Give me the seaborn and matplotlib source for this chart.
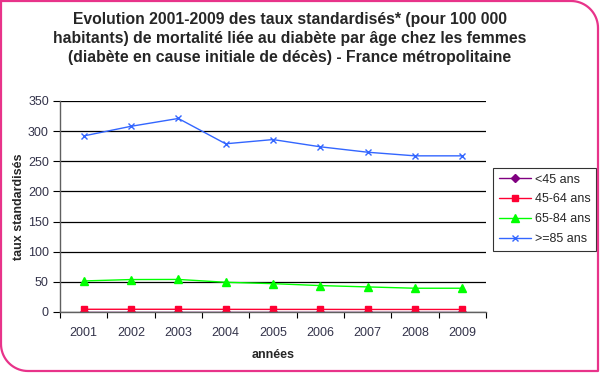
import matplotlib
matplotlib.use("Agg")
import matplotlib.pyplot as plt
import seaborn as sns
import pandas as pd
import numpy as np
from matplotlib.lines import Line2D

years = ["2001", "2002", "2003", "2004", "2005", "2006", "2007", "2008", "2009"]
lt45 = [0.4, 0.4, 0.4, 0.4, 0.4, 0.4, 0.4, 0.4, 0.4]
a45_64 = [4.5, 4.5, 4.5, 4.4, 4.3, 4.3, 4.2, 4.2, 4.2]
a65_84 = [51.5, 53.8, 54.0, 49.3, 47.0, 43.8, 41.6, 39.4, 39.4]
ge85 = [292, 308, 321, 279, 286, 274, 265, 259, 259]
series = ["<45 ans", "45-64 ans", "65-84 ans", ">=85 ans"]

sns.set_theme(style="white")
plt.rcParams['font.family'] = ['Liberation Sans', 'DejaVu Sans']

rows = []
for name, vals in zip(series, [lt45, a45_64, a65_84, ge85]):
    for i, (y, v) in enumerate(zip(years, vals)):
        rows.append({"idx": i, "year": y, "val": v, "serie": name})
df = pd.DataFrame(rows)

fig = plt.figure(figsize=(6, 3.74), dpi=100)
ax = fig.add_axes([0.1, 0.1658, 0.71, 0.5642])

palette = {"<45 ans": "#800080", "45-64 ans": "#FF0033", "65-84 ans": "#00FF00", ">=85 ans": "#3366FF"}
markers = {"<45 ans": "D", "45-64 ans": "s", "65-84 ans": "^", ">=85 ans": "x"}
msizes = {"<45 ans": 4, "45-64 ans": 5, "65-84 ans": 6, ">=85 ans": 5}
for name in series:
    sub = df[df["serie"] == name]
    sns.lineplot(data=sub, x="idx", y="val", color=palette[name], marker=markers[name],
                 markersize=msizes[name], markeredgewidth=1,
                 markeredgecolor=palette[name], linewidth=1, ax=ax, label=name)

tickcol = '#33334a'
ax.set_xlim(-0.5, 8.5)
ax.set_ylim(0, 350)
ax.set_yticks(np.arange(0, 351, 50))
ax.set_xticks(range(len(years)))
ax.set_xticklabels(years)
ax.set_xticks(np.arange(-0.5, 9, 1), minor=True)
ax.tick_params(axis='x', which='major', length=0, labelsize=9, pad=11, labelcolor=tickcol)
ax.tick_params(axis='x', which='minor', length=4, width=0.8, color='black', direction='out', bottom=True)
ax.tick_params(axis='y', which='major', length=5, width=0.8, color='black', labelsize=9,
               direction='out', left=True, pad=3, labelcolor=tickcol)
ax.yaxis.grid(True, color='black', linewidth=0.9)
ax.xaxis.grid(False)
ax.set_axisbelow(True)
for s in ['top', 'right']:
    ax.spines[s].set_visible(False)
for s in ['left', 'bottom']:
    ax.spines[s].set_color('#606060')
    ax.spines[s].set_linewidth(1)
ax.set_xlabel("années", fontsize=9, fontweight='bold', labelpad=7)
ax.set_ylabel("taux standardisés", fontsize=9, fontweight='bold', labelpad=2)

handles, labels = ax.get_legend_handles_labels()
leg = ax.legend(handles, labels, loc='upper left', bbox_to_anchor=(493/600, 1 - 168/374),
                bbox_transform=fig.transFigure, fontsize=9, frameon=True, fancybox=False,
                edgecolor='black', borderpad=0.45, labelspacing=0.62, handlelength=2.6,
                handletextpad=0.3, borderaxespad=0)
leg.get_frame().set_linewidth(0.8)

fig.text(290/600, 1 - 38.5/374, "Evolution 2001-2009 des taux standardisés* (pour 100 000\n"
         "habitants) de mortalité liée au diabète par âge chez les femmes\n"
         "(diabète en cause initiale de décès) - France métropolitaine",
         ha='center', va='center', fontsize=11.3, fontweight='bold', linespacing=1.36)

# border with rounded top-right and bottom-left corners
L, T, R, B, r = 1, 1, 598, 371, 27
th1 = np.linspace(np.pi / 2, 0, 20)
th2 = np.linspace(3 * np.pi / 2, np.pi, 20)
px = [L, R - r] + list(R - r + r * np.cos(th1)) + [R, L + r] + list(L + r + r * np.cos(th2)) + [L]
py = [T, T] + list(T + r - r * np.sin(th1)) + [B, B] + list(B - r - r * np.sin(th2)) + [T]
fig.add_artist(Line2D(np.array(px) / 600, 1 - np.array(py) / 374, transform=fig.transFigure,
                      color='#E8338A', linewidth=1.6))

fig.savefig("out.png", dpi=100)
